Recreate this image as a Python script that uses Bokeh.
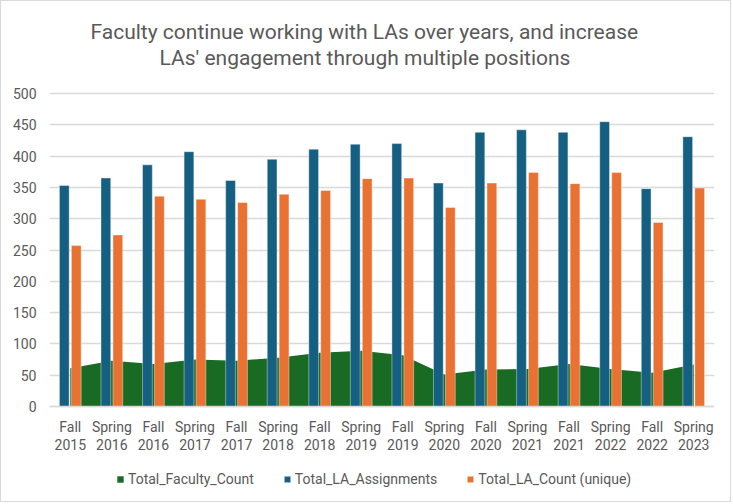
from bokeh.plotting import figure
from bokeh.models import (ColumnDataSource, Range1d, Title, Legend, LegendItem,
                          FixedTicker, LinearAxis)
from bokeh.transform import dodge
from bokeh.embed import file_html
from bokeh.resources import INLINE

semesters = ["Fall 2015", "Spring 2016", "Fall 2016", "Spring 2017", "Fall 2017", "Spring 2018",
             "Fall 2018", "Spring 2019", "Fall 2019", "Spring 2020", "Fall 2020", "Spring 2021",
             "Fall 2021", "Spring 2022", "Fall 2022", "Spring 2023"]
faculty_count = [61, 73, 68, 75, 73, 78, 86, 89, 82, 51, 59, 60, 68, 60, 54, 67]
la_assignments = [353, 365, 386, 407, 361, 395, 411, 419, 420, 357, 438, 442, 438, 455, 348, 431]
la_unique = [257, 274, 336, 331, 326, 339, 345, 364, 365, 318, 357, 374, 356, 374, 294, 349]
y_ticks = [0, 50, 100, 150, 200, 250, 300, 350, 400, 450, 500]

title_lines = ["Faculty continue working with LAs over years, and increase",
               "LAs' engagement through multiple positions"]
series_names = ["Total_Faculty_Count", "Total_LA_Assignments", "Total_LA_Count (unique)"]

GREEN = "#196B24"
BLUE = "#156082"
ORANGE = "#E97132"
TXT = "#595959"
GRID = "#D9D9D9"
FONT = "Roboto"

n = len(semesters)
idx = list(range(n))  # category slot of each semester
src = ColumnDataSource(dict(i=idx, sem=semesters, fac=faculty_count, asg=la_assignments,
                            uni=la_unique))

# frame: x 48..713, y 69..495 (canvas px); value 0 sits 90px above the frame bottom,
# 500 sits 313px above value 0  -> 0.626 px per unit
PX = 313 / 500
p = figure(width=731, height=502, x_range=Range1d(-0.5, n - 0.5),
           y_range=Range1d(-90 / PX, 336 / PX), output_backend="svg", toolbar_location=None,
           x_axis_location=None,
           min_border_left=48, min_border_right=18, min_border_top=69, min_border_bottom=7)
p.outline_line_color = None
p.background_fill_color = "white"
p.border_fill_color = "white"
p.styles = {"border": "1px solid #D9D9D9"}

area = p.varea(x="i", y1=0, y2="fac", source=src, fill_color=GREEN)
b1 = p.vbar(x=dodge("i", -0.144), top="asg", width=0.235, source=src,
            fill_color=BLUE, line_color="white", line_width=0.8, line_alpha=0.5)
b2 = p.vbar(x=dodge("i", 0.144), top="uni", width=0.235, source=src,
            fill_color=ORANGE, line_color="white", line_width=0.8, line_alpha=0.5)

# titles (closest-to-frame first)
p.add_layout(Title(text=title_lines[1], align="left", offset=110, text_font=FONT,
                   text_font_size="21px", text_font_style="normal", text_color=TXT,
                   standoff=1, text_line_height=1.0), "above")
p.add_layout(Title(text=title_lines[0], align="left", offset=41, text_font=FONT,
                   text_font_size="21px", text_font_style="normal", text_color=TXT,
                   standoff=0, text_line_height=1.0), "above")

# y axis
p.yaxis.ticker = FixedTicker(ticks=y_ticks)
p.yaxis.axis_line_color = None
p.yaxis.major_tick_line_color = None
p.yaxis.minor_tick_line_color = None
p.yaxis.major_tick_out = 0
p.yaxis.major_label_standoff = 13
p.yaxis.major_label_text_color = TXT
p.yaxis.major_label_text_font = FONT
p.yaxis.major_label_text_font_size = "14px"

for g in p.grid:
    if g.dimension == 0:
        g.visible = False
    else:
        g.grid_line_color = GRID
        g.grid_line_width = 1.3

# x axis labels: term on first row, year on second row (axis drawn at value 0)
def label_axis(labels, standoff, line_color):
    return LinearAxis(fixed_location=0, ticker=FixedTicker(ticks=idx),
                      major_label_overrides={i: t for i, t in zip(idx, labels)},
                      axis_line_color=line_color, axis_line_width=1.5,
                      major_tick_line_color=None, minor_tick_line_color=None,
                      major_tick_out=0, minor_tick_out=0, major_label_standoff=standoff,
                      major_label_text_color=TXT, major_label_text_font=FONT,
                      major_label_text_font_size="14px")

p.add_layout(label_axis([s.split(" ")[0] for s in semesters], 12, GRID), "below")
p.add_layout(label_axis([s.split(" ")[1] for s in semesters], 32, None), "below")

legend = Legend(items=[LegendItem(label=series_names[0], renderers=[area]),
                       LegendItem(label=series_names[1], renderers=[b1]),
                       LegendItem(label=series_names[2], renderers=[b2])],
                orientation="horizontal", location=(67, 9), padding=0, margin=0,
                spacing=29, label_standoff=4, glyph_width=8, glyph_height=8,
                label_text_font=FONT, label_text_font_size="14px", label_text_color=TXT,
                border_line_color=None, background_fill_alpha=0)
p.add_layout(legend)

open("out.html", "w").write(file_html(p, INLINE))
